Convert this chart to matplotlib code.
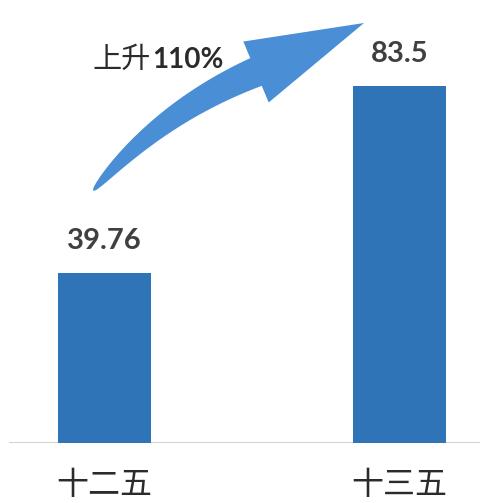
import numpy as np
import matplotlib
matplotlib.use("Agg")
import matplotlib.pyplot as plt
from matplotlib.patches import Polygon

plt.rcParams['font.family'] = ['Noto Sans CJK SC', 'DejaVu Sans']

# data
periods = ['十二五', '十三五']
values = [39.76, 83.5]
value_labels = ['39.76', '83.5']
growth_text = '上升'
growth_pct = '110%'

W, H = 481, 503
fig = plt.figure(figsize=(W / 100, H / 100), dpi=100)
fig.patch.set_facecolor('white')

# axes: baseline at 443 px from top, bars centred at 104.5 / 399.5 px
ax = fig.add_axes([0, 60 / H, 1, 443 / H])
ax.set_xlim(-104.5 / 295, (W - 104.5) / 295)
ax.set_ylim(0, 443 / 4.276)

x = np.arange(len(periods))
bars = ax.bar(x, values, width=93 / 295, color='#2e74b7', zorder=2)
ax.axhline(0, xmin=10 / W, xmax=1, color='#c9c9c9', lw=1.2, zorder=1)

for b, lab in zip(bars, value_labels):
    ax.annotate(lab, xy=(b.get_x() + b.get_width() / 2, b.get_height()),
                xytext=(0, 17), textcoords='offset points', ha='center', va='baseline',
                fontsize=21, fontweight='bold', color='#404040', family=['Lato', 'DejaVu Sans'])

ax.set_xticks(x)
ax.set_xticklabels(periods, fontsize=23, color='#2b2b2b')
ax.tick_params(axis='x', length=0, pad=19)
ax.set_yticks([])
for s in ax.spines.values():
    s.set_visible(False)
ax.patch.set_alpha(0)


# curved tapered arrow, drawn in pixel space (from top-left)
def px(pts):
    pts = np.asarray(pts, dtype=float)
    return np.column_stack([pts[:, 0] / W, 1 - pts[:, 1] / H])


p0 = np.array([93.0, 191.0])
p1 = np.array([160.0, 112.0])
p2 = np.array([256.0, 72.0])
tip = np.array([364.0, 23.0])
t = np.linspace(0, 1, 80)
c = ((1 - t) ** 2)[:, None] * p0 + (2 * (1 - t) * t)[:, None] * p1 + (t ** 2)[:, None] * p2
d = (2 * (1 - t))[:, None] * (p1 - p0) + (2 * t)[:, None] * (p2 - p1)
d = d / np.linalg.norm(d, axis=1)[:, None]
n = np.column_stack([d[:, 1], -d[:, 0]])
w = 15.0 * t ** 0.5
upper = c + n * w[:, None]
lower = c - n * w[:, None]
nd = n[-1]
head_a = p2 + nd * 33
head_b = p2 - nd * 33
outline = np.vstack([upper, head_a, tip, head_b, lower[::-1]])
fig.patches.append(Polygon(px(outline), closed=True, transform=fig.transFigure,
                           facecolor='#4a8fd6', edgecolor='none', zorder=3))

t1 = fig.text(93 / W, 1 - 68 / H, growth_text, fontsize=21, color='#2b2b2b',
              ha='left', va='baseline')
fig.canvas.draw()
bb = t1.get_window_extent(renderer=fig.canvas.get_renderer())
fig.text(bb.x1 / W + 1 / W, 1 - 68 / H, growth_pct, fontsize=20, fontweight='bold',
         color='#2b2b2b', ha='left', va='baseline', family=['Lato', 'DejaVu Sans'])

fig.savefig('out.png', dpi=100, facecolor='white')
